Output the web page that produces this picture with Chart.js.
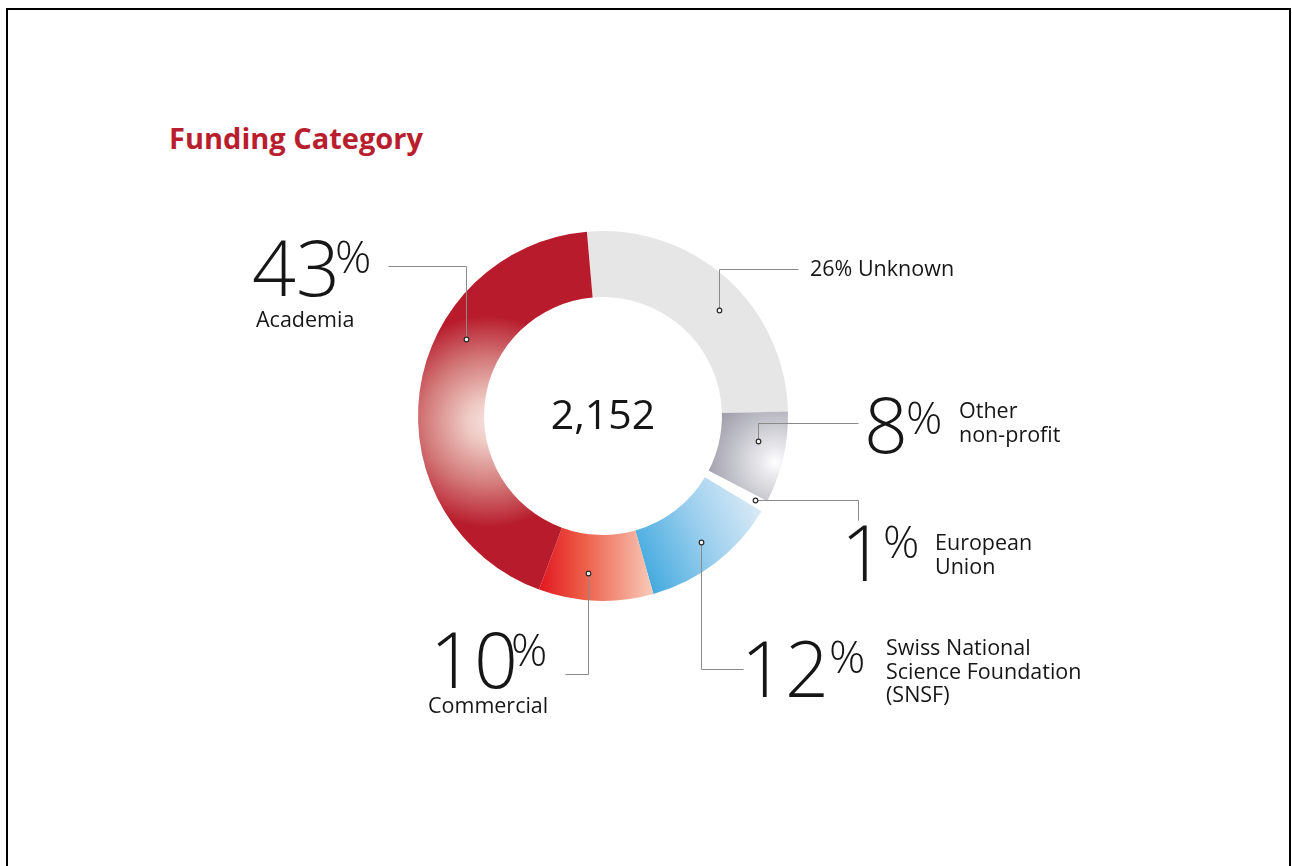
<!DOCTYPE html>
<html>
<head>
<meta charset="utf-8">
<title>Funding Category</title>
<script src="https://cdn.jsdelivr.net/npm/chart.js@4.4.1/dist/chart.umd.min.js"></script>
<style>
  html, body { margin: 0; padding: 0; background: #fff; }
  body { width: 1292px; height: 866px; position: relative; overflow: hidden; font-family: "Open Sans", sans-serif; }
  .frame { position: absolute; left: 6px; top: 8px; width: 1281px; height: 900px; border: 2px solid #000; border-bottom: none; }
  h1 { position: absolute; left: 169px; top: 124px; margin: 0; font: 700 29px/28px "Open Sans", sans-serif; color: #b91e2e; white-space: nowrap; }
  #funding-chart { position: absolute; left: 0; top: 0; }
</style>
</head>
<body>
<div class="frame"></div>
<h1>Funding Category</h1>
<canvas id="funding-chart" width="1292" height="866"></canvas>
<script>
// slices, clockwise from the top
const categories = ["Unknown", "Other non-profit", "European Union", "Swiss National Science Foundation (SNSF)", "Commercial", "Academia"];
const shares = [26, 8, 1, 12, 10, 43];
const labelLines = [["Unknown"], ["Other", "non-profit"], ["European", "Union"], ["Swiss National", "Science Foundation", "(SNSF)"], ["Commercial"], ["Academia"]];
const totalProjects = 2152;

// where each callout sits: anchor on the slice (t along arc, r across ring), leader path, text spots
const callouts = [
  { t: 0.56, r: 0.58, path: [{ y: 269 }, { x: 798 }], inline: { x: 810, y: 276 } },
  { t: 0.36, r: 0.58, path: [{ y: 423 }, { x: 858 }], num: { x: 868, y: 453 }, pct: { x: 908, y: 401 }, text: { x: 959, y: 418 } },
  { t: 0.4, r: 0.83, path: [{ x: 858 }, { y: 520 }], num: { x: 848, y: 581 }, pct: { x: 885, y: 525 }, text: { x: 935, y: 550 } },
  { t: 0.49, r: 0.62, path: [{ y: 669 }, { x: 743 }], num: { x: 748, y: 697 }, pct: { x: 831, y: 640 }, text: { x: 886, y: 655 } },
  { t: 0.59, r: 0.58, path: [{ y: 674 }, { x: 565 }], num: { x: 437, y: 688 }, pct: { x: 513, y: 633 }, text: { x: 428, y: 713 } },
  { t: 0.64, r: 0.58, path: [{ y: 266 }, { x: 388 }], num: { x: 253, y: 296 }, pct: { x: 337, y: 240 }, text: { x: 256, y: 327 } }
];

const FONT = '"Open Sans", sans-serif';
const INK = "#161616";

function sliceFill(context) {
  const chart = context.chart;
  const area = chart.chartArea;
  const plain = ["#e6e6e6", "#a4a3ae", "#ffffff", "#8cc8ea", "#ee6a55", "#b81c2c"];
  if (!area) {
    return plain[context.dataIndex];
  }
  const ctx = chart.ctx;
  const cx = (area.left + area.right) / 2;
  const cy = (area.top + area.bottom) / 2;
  const R = Math.min(area.width, area.height) / 2;
  let g;
  switch (context.dataIndex) {
    case 1:
      g = ctx.createRadialGradient(cx + 0.93 * R, cy + 0.25 * R, 0, cx + 0.93 * R, cy + 0.25 * R, 0.4 * R);
      g.addColorStop(0, "#ffffff");
      g.addColorStop(0.2, "#e8e8ec");
      g.addColorStop(1, "#9a99a6");
      return g;
    case 3:
      g = ctx.createLinearGradient(cx + 0.18 * R, cy + 0.78 * R, cx + 0.88 * R, cy + 0.45 * R);
      g.addColorStop(0, "#43aadf");
      g.addColorStop(0.5, "#9ccfee");
      g.addColorStop(1, "#e3eef8");
      return g;
    case 4:
      g = ctx.createLinearGradient(cx - 0.33 * R, cy, cx + 0.3 * R, cy);
      g.addColorStop(0, "#e31b23");
      g.addColorStop(0.35, "#ec5d47");
      g.addColorStop(1, "#fad3c3");
      return g;
    case 5:
      g = ctx.createRadialGradient(cx - 0.62 * R, cy + 0.03 * R, 0, cx - 0.62 * R, cy + 0.03 * R, 0.95 * R);
      g.addColorStop(0, "#f6e0db");
      g.addColorStop(0.12, "#efcac4");
      g.addColorStop(0.35, "#d47e7d");
      g.addColorStop(0.6, "#b81c2c");
      g.addColorStop(1, "#b81c2c");
      return g;
    default:
      return plain[context.dataIndex];
  }
}

function drawInk(ctx, text, inkX, baseline) {
  const m = ctx.measureText(text);
  ctx.fillText(text, inkX + m.actualBoundingBoxLeft, baseline);
}

const calloutPlugin = {
  id: "callouts",
  afterDatasetsDraw(chart) {
    const ctx = chart.ctx;
    const arcs = chart.getDatasetMeta(0).data;
    ctx.save();

    // centre total
    ctx.fillStyle = INK;
    ctx.font = `400 41px ${FONT}`;
    ctx.textAlign = "center";
    ctx.textBaseline = "alphabetic";
    const c = arcs[0];
    ctx.fillText(totalProjects.toLocaleString("en-US"), c.x, c.y + 13);
    ctx.textAlign = "left";

    arcs.forEach((arc, i) => {
      const spot = callouts[i];
      const a = arc.startAngle + spot.t * (arc.endAngle - arc.startAngle);
      const r = arc.innerRadius + spot.r * (arc.outerRadius - arc.innerRadius);
      const px = Math.round(arc.x + Math.cos(a) * r) + 0.5;
      const py = Math.round(arc.y + Math.sin(a) * r) + 0.5;

      ctx.strokeStyle = "#8a8a8a";
      ctx.lineWidth = 1;
      ctx.beginPath();
      ctx.moveTo(px, py);
      let lx = px;
      let ly = py;
      spot.path.forEach((step) => {
        if (step.x !== undefined) {
          lx = step.x + 0.5;
        } else {
          ly = step.y + 0.5;
        }
        ctx.lineTo(lx, ly);
      });
      ctx.stroke();

      ctx.beginPath();
      ctx.arc(px, py, 2.3, 0, Math.PI * 2);
      ctx.fillStyle = "#ffffff";
      ctx.fill();
      ctx.strokeStyle = "#2b2b2b";
      ctx.lineWidth = 1.2;
      ctx.stroke();

      ctx.fillStyle = INK;
      if (spot.inline) {
        ctx.font = `400 21.5px ${FONT}`;
        ctx.fillText(`${shares[i]}% ${labelLines[i].join(" ")}`, spot.inline.x, spot.inline.y);
        return;
      }
      ctx.font = `300 77px ${FONT}`;
      drawInk(ctx, String(shares[i]), spot.num.x, spot.num.y);
      ctx.font = `300 45px ${FONT}`;
      const pm = ctx.measureText("%");
      drawInk(ctx, "%", spot.pct.x, spot.pct.y + pm.actualBoundingBoxAscent);
      ctx.font = `400 21.5px ${FONT}`;
      labelLines[i].forEach((line, k) => {
        ctx.fillText(line, spot.text.x, spot.text.y + k * 23.5);
      });
    });
    ctx.restore();
  }
};

new Chart(document.getElementById("funding-chart"), {
  type: "doughnut",
  data: {
    labels: categories,
    datasets: [
      {
        data: shares,
        backgroundColor: sliceFill,
        borderWidth: 0,
        hoverOffset: 0
      }
    ]
  },
  options: {
    responsive: false,
    animation: false,
    events: [],
    rotation: -5,
    cutout: "64.3%",
    layout: { padding: { left: 418, right: 504, top: 231, bottom: 265 } },
    plugins: {
      legend: { display: false },
      tooltip: { enabled: false }
    }
  },
  plugins: [calloutPlugin]
});
</script>
</body>
</html>
